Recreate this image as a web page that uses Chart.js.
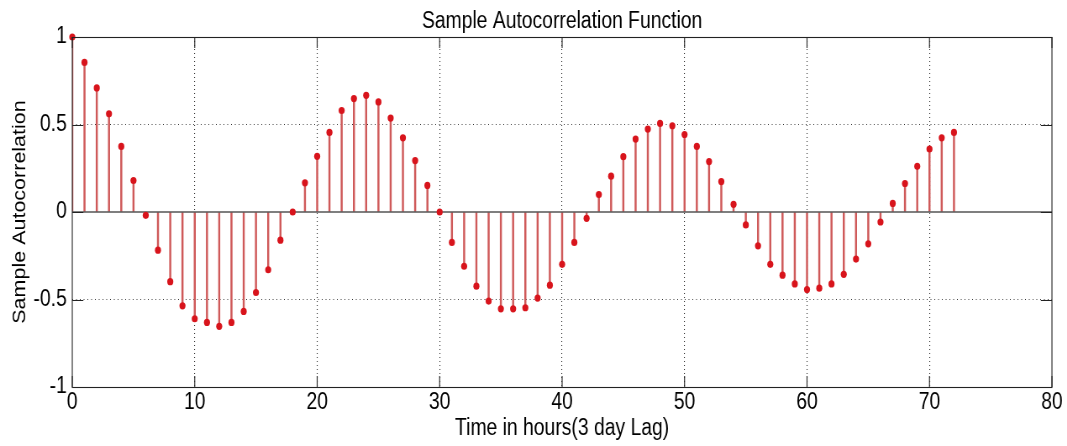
<!DOCTYPE html>
<html>
<head>
<meta charset="utf-8">
<script src="https://cdn.jsdelivr.net/npm/chart.js@4/dist/chart.umd.min.js"></script>
<style>
  html, body { margin: 0; padding: 0; background: #fff; overflow: hidden; }
  /* the figure is laid out wider and narrowed horizontally, giving the tall, condensed lettering */
  #wrap { width: 1270px; height: 446px; transform: scaleX(0.8402); transform-origin: 0 0; }
</style>
</head>
<body>
<div id="wrap"><canvas id="acf"></canvas></div>
<script>
// Lags (in 3-hour steps) and sample autocorrelation values
const lags = [0, 1, 2, 3, 4, 5, 6, 7, 8, 9,
  10, 11, 12, 13, 14, 15, 16, 17, 18, 19,
  20, 21, 22, 23, 24, 25, 26, 27, 28, 29,
  30, 31, 32, 33, 34, 35, 36, 37, 38, 39,
  40, 41, 42, 43, 44, 45, 46, 47, 48, 49,
  50, 51, 52, 53, 54, 55, 56, 57, 58, 59,
  60, 61, 62, 63, 64, 65, 66, 67, 68, 69,
  70, 71, 72];
const acf = [1, 0.855, 0.709, 0.561, 0.375, 0.18, -0.019, -0.218, -0.398, -0.536,
  -0.61, -0.631, -0.653, -0.631, -0.568, -0.46, -0.33, -0.161, 0.0, 0.167,
  0.318, 0.455, 0.58, 0.648, 0.667, 0.629, 0.537, 0.424, 0.294, 0.152,
  0.0, -0.174, -0.31, -0.424, -0.509, -0.553, -0.553, -0.547, -0.492, -0.418,
  -0.299, -0.174, -0.036, 0.1, 0.205, 0.316, 0.417, 0.474, 0.506, 0.493,
  0.443, 0.375, 0.288, 0.174, 0.044, -0.074, -0.193, -0.299, -0.361, -0.411,
  -0.443, -0.435, -0.411, -0.356, -0.269, -0.182, -0.057, 0.049, 0.163, 0.261,
  0.36, 0.424, 0.455];
const baselineX = [0, 80];
const xTickValues = [0, 10, 20, 30, 40, 50, 60, 70, 80];
const yTickValues = [-1, -0.5, 0, 0.5, 1];
const yTickLabels = ['-1', '-0.5', '0', '0.5', '1'];

const points = lags.map((x, i) => ({ x, y: acf[i] }));
const baseline = baselineX.map(x => ({ x, y: 0 }));

const FONT = "'Liberation Sans', Arial, Helvetica, sans-serif";

// Axes box with inward tick marks
const boxPlugin = {
  id: 'box',
  afterDraw(chart) {
    const { ctx, chartArea: a, scales } = chart;
    ctx.save();
    ctx.strokeStyle = '#222';
    ctx.lineWidth = 1.1;
    ctx.beginPath();
    const len = 11;
    scales.x.ticks.forEach(t => {
      const px = scales.x.getPixelForValue(t.value);
      ctx.moveTo(px, a.bottom); ctx.lineTo(px, a.bottom - len);
      ctx.moveTo(px, a.top); ctx.lineTo(px, a.top + len);
    });
    scales.y.ticks.forEach(t => {
      const py = Math.round(scales.y.getPixelForValue(t.value)) + 0.5;
      ctx.moveTo(a.left, py); ctx.lineTo(a.left + len * 1.2, py);
      ctx.moveTo(a.right, py); ctx.lineTo(a.right - len * 1.2, py);
    });
    ctx.stroke();
    ctx.strokeRect(a.left, Math.round(a.top) + 0.5, a.right - a.left, Math.round(a.bottom - a.top));
    ctx.restore();
  }
};

new Chart(document.getElementById('acf'), {
  type: 'bar',
  data: {
    datasets: [
      {
        type: 'scatter',
        data: points,
        pointRadius: 3.6,
        pointHoverRadius: 3.6,
        backgroundColor: '#d8141c',
        borderColor: '#d8141c',
        borderWidth: 0,
        clip: false,
        order: 0
      },
      {
        type: 'line',
        data: baseline,
        borderColor: '#555555',
        borderWidth: 1.5,
        pointRadius: 0,
        fill: false,
        order: 1
      },
      {
        type: 'bar',
        data: points,
        backgroundColor: '#cf5a5a',
        barThickness: 1.8,
        grouped: false,
        order: 2
      }
    ]
  },
  plugins: [boxPlugin],
  options: {
    responsive: true,
    maintainAspectRatio: false,
    animation: false,
    events: [],
    layout: { padding: { left: 0, right: 18, top: 0, bottom: 0 } },
    plugins: {
      legend: { display: false },
      tooltip: { enabled: false },
      title: {
        display: true,
        fullSize: false,
        text: 'Sample Autocorrelation Function',
        color: '#000',
        font: { family: FONT, size: 23, weight: 'normal' },
        padding: { top: 8.2, bottom: 1.2 }
      }
    },
    scales: {
      x: {
        type: 'linear',
        min: 0,
        max: 80,
        offset: false,
        afterBuildTicks(scale) { scale.ticks = xTickValues.map(v => ({ value: v })); },
        afterFit(scale) { scale.height = 59; },
        grid: {
          offset: false,
          drawTicks: false,
          color: ctx => (ctx.tick && (ctx.tick.value === 0 || ctx.tick.value === 80)) ? 'rgba(0,0,0,0)' : '#333',
          lineWidth: 1.1
        },
        border: { display: false, dash: [1, 3] },
        ticks: {
          color: '#000',
          padding: 1.5,
          maxRotation: 0,
          autoSkip: false,
          font: { family: FONT, size: 23 },
          callback: v => String(v)
        },
        title: {
          display: true,
          text: 'Time in hours(3 day Lag)',
          color: '#000',
          font: { family: FONT, size: 23 },
          padding: { top: 0, bottom: 3.7 }
        }
      },
      y: {
        type: 'linear',
        min: -1,
        max: 1,
        afterBuildTicks(scale) { scale.ticks = yTickValues.map(v => ({ value: v })); },
        afterFit(scale) { scale.width = 86; },
        grid: {
          drawTicks: false,
          color: ctx => (ctx.tick && (ctx.tick.value === 0 || Math.abs(ctx.tick.value) === 1)) ? 'rgba(0,0,0,0)' : '#333',
          lineWidth: 1
        },
        border: { display: false, dash: [1, 3.5] },
        ticks: {
          color: '#000',
          padding: 6.5,
          autoSkip: false,
          font: { family: FONT, size: 23 },
          callback: (v) => yTickLabels[yTickValues.indexOf(v)]
        },
        title: {
          display: true,
          text: 'Sample Autocorrelation',
          color: '#000',
          font: { family: FONT, size: 21.5 },
          padding: { top: 11.5, bottom: 0 }
        }
      }
    }
  }
});
</script>
</body>
</html>
